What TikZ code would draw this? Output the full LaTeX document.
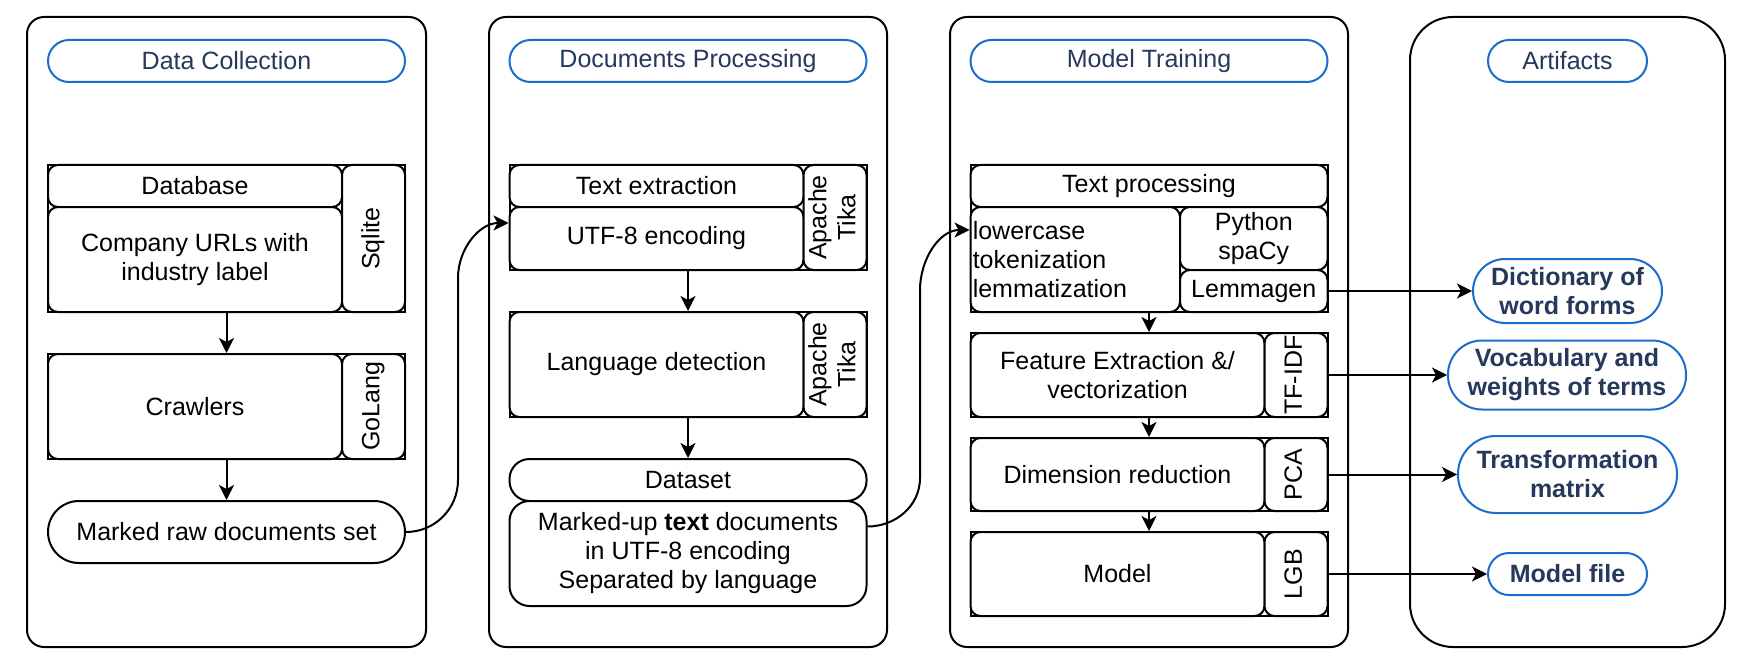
\documentclass[tikz,border=0pt]{standalone}
\usepackage{fontspec}
\setmainfont{Liberation Sans}
\usetikzlibrary{arrows.meta}
\definecolor{pillblue}{RGB}{28,108,204}
\definecolor{navy}{RGB}{38,56,92}
\newcommand{\diagfont}{\fontsize{25}{29}\selectfont}
\newcommand{\sidetext}[1]{\rotatebox{90}{\begin{tabular}{@{}c@{}}#1\end{tabular}}}

\begin{document}
\begin{tikzpicture}[
  x=1pt,y=-1pt,
  >={Stealth[length=15pt,width=15pt,inset=4pt]},
  every node/.style={font=\diagfont,inner sep=0pt,align=center},
  sz/.style 2 args={minimum width=#1pt,minimum height=#2pt},
  panel/.style={draw,line width=2pt,rounded corners=17pt},
  frame/.style={draw,line width=2pt},
  cell/.style={draw,fill=white,line width=2pt,rounded corners=10pt},
  pill/.style={draw=pillblue,fill=white,line width=2pt,rounded corners=21pt,text=navy},
  art/.style={pill,font=\diagfont\bfseries},
  link/.style={->,line width=2pt}
]
  \useasboundingbox (0,0) rectangle (1739,663);

  \node[panel,sz={399}{630}] (colpanel) at (226.5,332) {};
  \node[panel,sz={398}{630}] (procpanel) at (688,332) {};
  \node[panel,sz={398}{630}] (trainpanel) at (1149,332) {};
  \node[panel,rounded corners=43pt,sz={315}{630}] (artpanel) at (1567.5,332) {};

  \node[pill,sz={357}{42}] (coltitle) at (226.5,61) {Data Collection};
  \node[pill,sz={357}{42}] (proctitle) at (688,61) {Documents Processing};
  \node[pill,sz={357}{42}] (traintitle) at (1149,61) {Model Training};
  \node[pill,sz={159}{42}] (arttitle) at (1567.5,61) {Artifacts};

  % data collection
  \node[frame,sz={357}{147}] (dbgroup) at (226.5,238.5) {};
  \node[cell,sz={294}{42}] (dbhead) at (195,186) {Database};
  \node[cell,sz={294}{105}] (urls) at (195,259.5) {Company URLs with\\industry label};
  \node[cell,sz={63}{147}] (sqlite) at (373.5,238.5) {\sidetext{Sqlite}};
  \node[frame,sz={357}{105}] (crawlgroup) at (226.5,406.5) {};
  \node[cell,sz={294}{105}] (crawlers) at (195,406.5) {Crawlers};
  \node[cell,sz={63}{105}] (golang) at (373.5,406.5) {\sidetext{GoLang}};
  \node[cell,rounded corners=31pt,sz={357}{62}] (rawdocs) at (226.5,532) {Marked raw documents set};

  % documents processing
  \node[frame,sz={357}{105}] (extgroup) at (688,217.5) {};
  \node[cell,sz={294}{42}] (extract) at (656.5,186) {Text extraction};
  \node[cell,sz={294}{63}] (utf) at (656.5,238.5) {UTF-8 encoding};
  \node[cell,sz={63}{105}] (tikaext) at (835,217.5) {\sidetext{Apache\\Tika}};
  \node[frame,sz={357}{105}] (langgroup) at (688,364.5) {};
  \node[cell,sz={294}{105}] (langdet) at (656.5,364.5) {Language detection};
  \node[cell,sz={63}{105}] (tikalang) at (835,364.5) {\sidetext{Apache\\Tika}};
  \node[cell,rounded corners=20pt,sz={357}{42}] (dshead) at (688,480) {Dataset};
  \node[cell,rounded corners=20pt,sz={357}{105}] (dsbody) at (688,553.5)
    {Marked-up \textbf{text} documents\\in UTF-8 encoding\\Separated by language};

  % model training
  \node[frame,sz={357}{147}] (tpgroup) at (1149,238.5) {};
  \node[cell,sz={357}{42}] (tphead) at (1149,186) {Text processing};
  \node[cell,align=left,text width=205pt,sz={209.5}{105}] (lower) at (1075.25,259.5)
    {lowercase\\tokenization\\lemmatization};
  \node[cell,sz={147.5}{63}] (spacy) at (1253.75,238.5) {Python\\spaCy};
  \node[cell,sz={147.5}{42}] (lemmagen) at (1253.75,291) {Lemmagen};
  \node[frame,sz={357}{84}] (featgroup) at (1149,375) {};
  \node[cell,sz={294}{84}] (features) at (1117.5,375) {Feature Extraction \&/\\vectorization};
  \node[cell,sz={63}{84}] (tfidf) at (1296,375) {\sidetext{TF-IDF}};
  \node[frame,sz={357}{73}] (dimgroup) at (1149,474.5) {};
  \node[cell,sz={294}{73}] (dimred) at (1117.5,474.5) {Dimension reduction};
  \node[cell,sz={63}{73}] (pca) at (1296,474.5) {\sidetext{PCA}};
  \node[frame,sz={357}{84}] (modgroup) at (1149,574) {};
  \node[cell,sz={294}{84}] (model) at (1117.5,574) {Model};
  \node[cell,sz={63}{84}] (lgb) at (1296,574) {\sidetext{LGB}};

  % artifacts
  \node[art,rounded corners=32pt,sz={189}{64}] (dict) at (1567.5,291) {Dictionary of\\word forms};
  \node[art,rounded corners=34pt,sz={238}{69}] (vocab) at (1567,375) {Vocabulary and\\weights of terms};
  \node[art,rounded corners=38pt,sz={219}{77}] (transform) at (1567.5,474.5) {Transformation\\matrix};
  \node[art,sz={159}{42}] (modelfile) at (1567.5,574) {Model file};

  \draw[link] (dbgroup) -- (crawlgroup);
  \draw[link] (crawlgroup) -- (rawdocs);
  \draw[link] (extgroup) -- (langgroup);
  \draw[link] (langgroup) -- (dshead);
  \draw[link] (tpgroup) -- (featgroup);
  \draw[link] (featgroup) -- (dimgroup);
  \draw[link] (dimgroup) -- (modgroup);

  \draw[link] (rawdocs.east) to[out=0,in=-90] (458,480) -- (458,278)
    to[out=90,in=180] ([yshift=15.5pt]utf.west);
  \draw[link] ([yshift=27pt]dsbody.east) to[out=0,in=-90] (920,478) -- (920,290)
    to[out=90,in=180] ([yshift=29.5pt]lower.west);

  \draw[link] (lemmagen) -- (dict);
  \draw[link] (tfidf) -- (vocab);
  \draw[link] (pca) -- (transform);
  \draw[link] (lgb) -- (modelfile);
\end{tikzpicture}
\end{document}
